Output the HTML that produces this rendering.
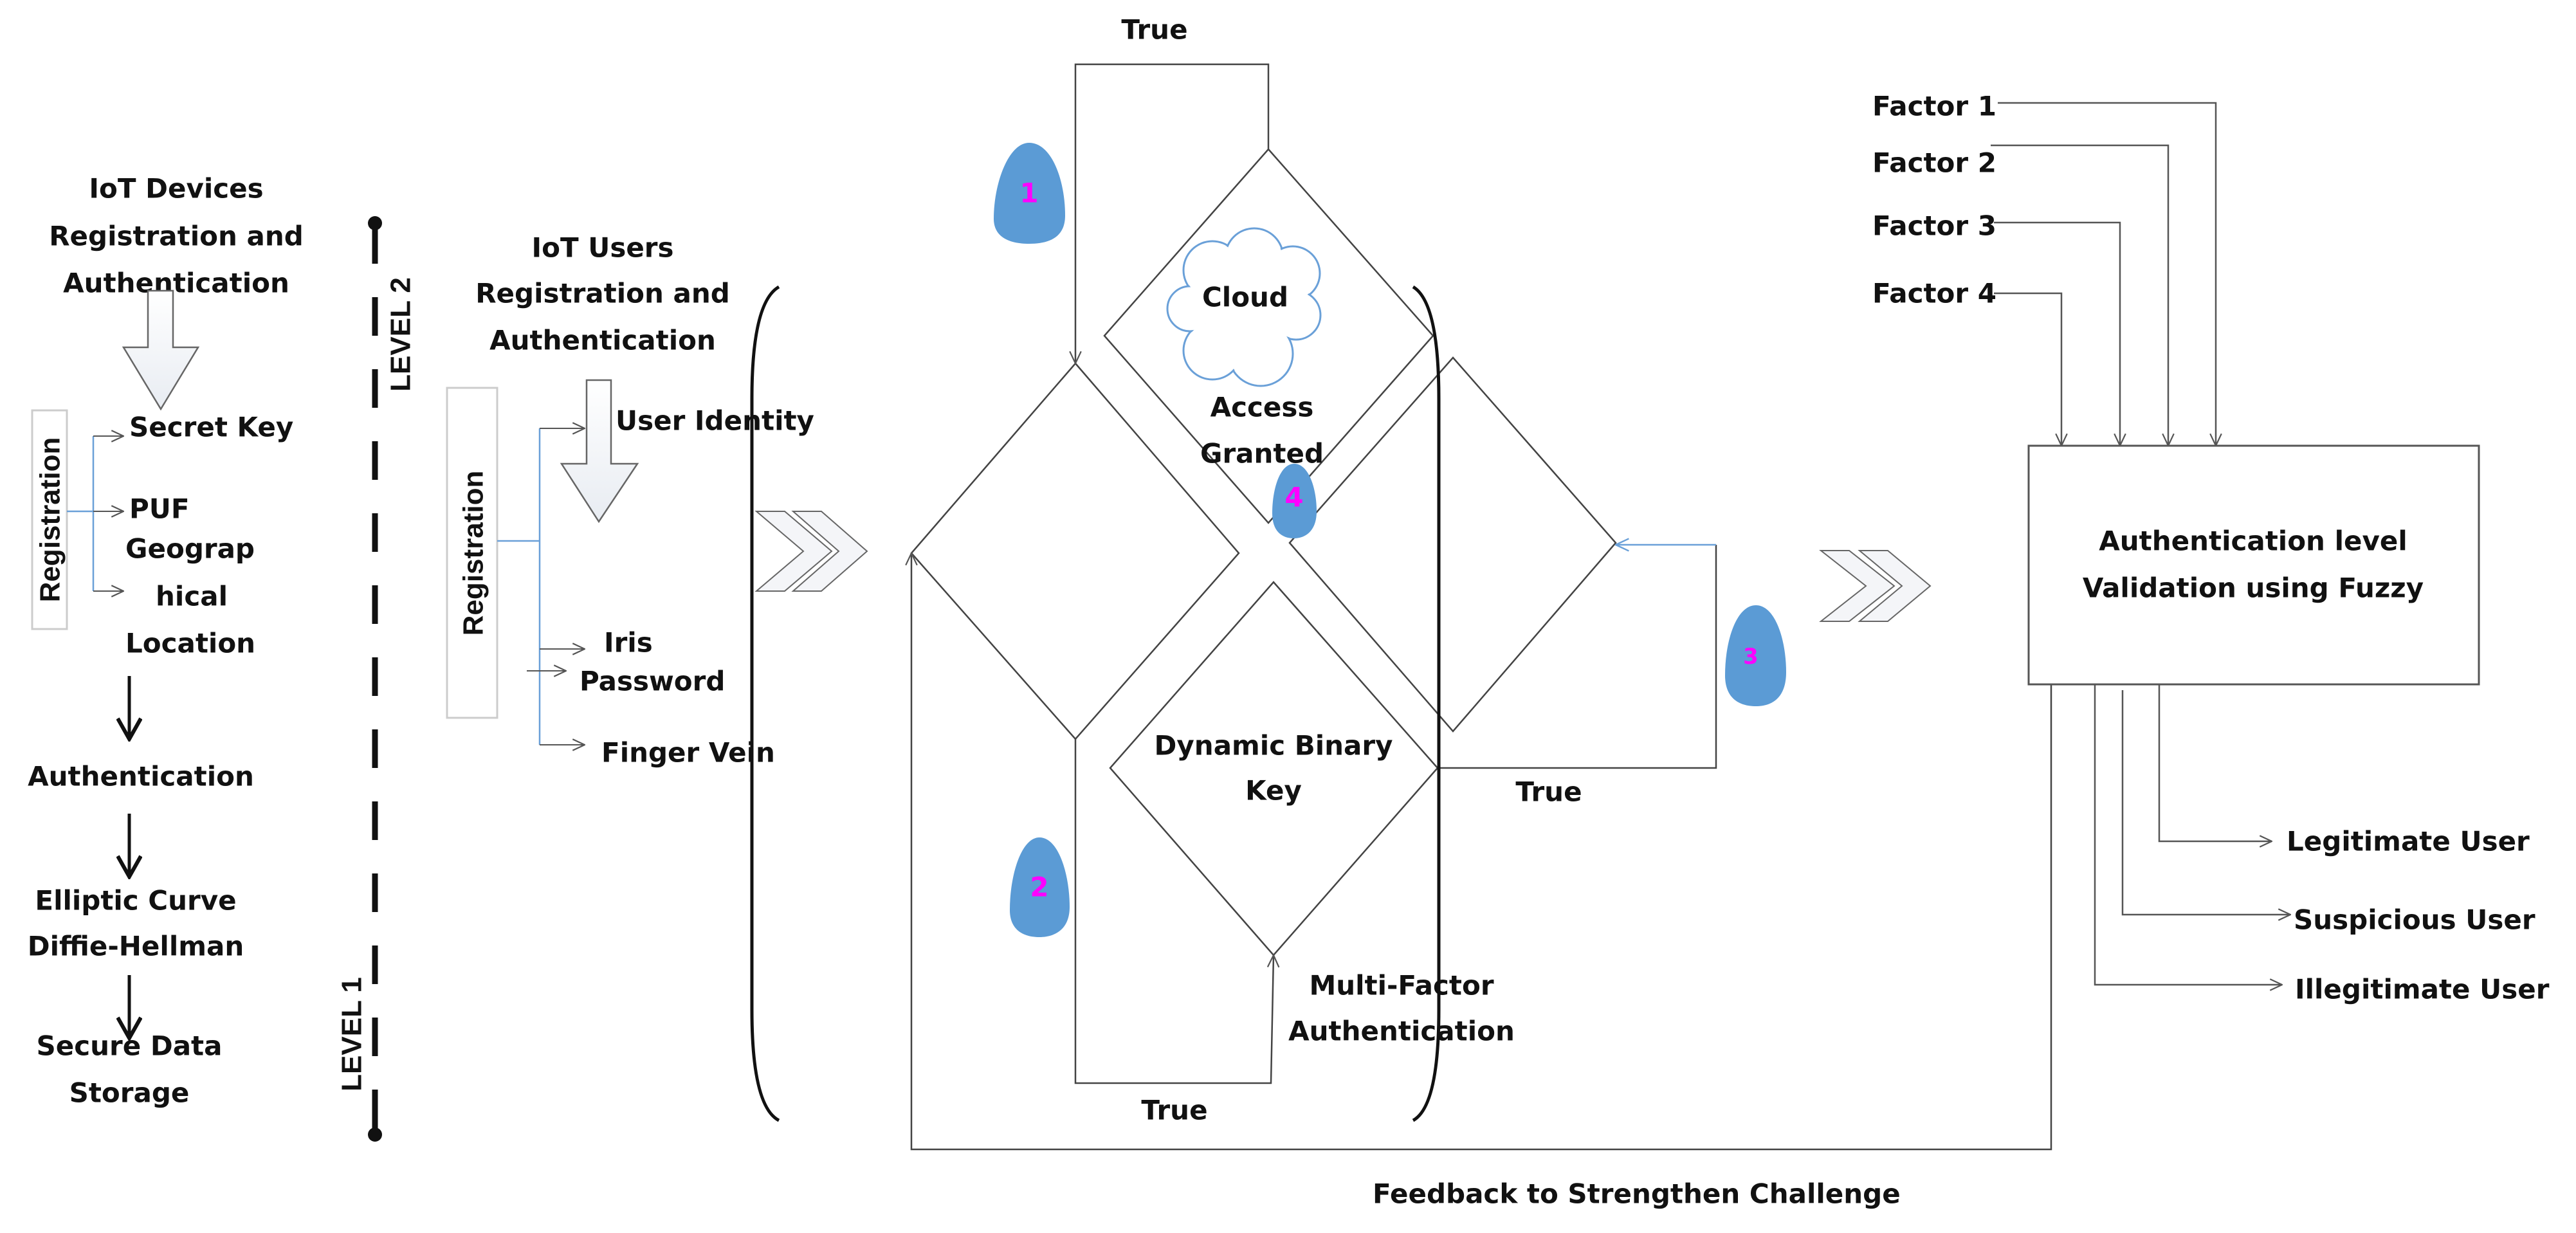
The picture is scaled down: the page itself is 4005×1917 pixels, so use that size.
<!DOCTYPE html>
<html><head><meta charset="utf-8"><style>
html,body{margin:0;padding:0;background:#fff}
svg{display:block}
text{font-family:"DejaVu Sans","Liberation Sans",sans-serif;font-weight:bold;font-size:42px;fill:#111;dominant-baseline:central}
.n{font-family:"Liberation Sans Narrow","Liberation Sans",sans-serif;font-size:44px}
</style></head><body>
<svg width="4005" height="1917" viewBox="0 0 4005 1917" xmlns="http://www.w3.org/2000/svg">
<defs>
<marker id="oa" viewBox="0 0 20 20" refX="19" refY="10" markerWidth="22" markerHeight="22" markerUnits="userSpaceOnUse" orient="auto"><path d="M2,2 L19,10 L2,18" fill="none" stroke="#555" stroke-width="2"/></marker>
<marker id="ob" viewBox="0 0 20 20" refX="19" refY="10" markerWidth="24" markerHeight="24" markerUnits="userSpaceOnUse" orient="auto"><path d="M2,2 L19,10 L2,18" fill="none" stroke="#6aa0d8" stroke-width="2"/></marker>
<marker id="ka" viewBox="0 0 20 20" refX="18" refY="10" markerWidth="40" markerHeight="40" markerUnits="userSpaceOnUse" orient="auto"><path d="M2,1 L18,10 L2,19" fill="none" stroke="#111" stroke-width="3"/></marker>
<linearGradient id="gr" x1="0" y1="0" x2="0" y2="1"><stop offset="0" stop-color="#fff"/><stop offset="1" stop-color="#e8ecf2"/></linearGradient>
</defs>

<!-- LEFT COLUMN -->
<text x="274" y="293" text-anchor="middle">IoT Devices</text>
<text x="274" y="367" text-anchor="middle">Registration and</text>
<text x="274" y="440" text-anchor="middle">Authentication</text>
<polygon points="230,452 269,452 269,540 308,540 250,636 192,540 230,540" fill="url(#gr)" stroke="#666" stroke-width="2.5"/>
<rect x="50" y="638" width="54" height="340" fill="#fff" stroke="#ccc" stroke-width="3"/>
<text class="n" transform="translate(78,808) rotate(-90)" text-anchor="middle">Registration</text>
<g stroke="#6aa0d8" stroke-width="2.5" fill="none">
<line x1="104" y1="795" x2="145" y2="795"/><line x1="145" y1="678" x2="145" y2="919"/>
</g>
<g stroke="#555" stroke-width="2" fill="none" marker-end="url(#oa)">
<line x1="145" y1="678" x2="192" y2="678"/><line x1="145" y1="795" x2="192" y2="795"/><line x1="145" y1="919" x2="192" y2="919"/>
</g>
<text x="201" y="664">Secret Key</text>
<text x="201" y="791">PUF</text>
<text x="195" y="853">Geograp</text>
<text x="298" y="927" text-anchor="middle">hical</text>
<text x="195" y="1000">Location</text>
<g stroke="#111" stroke-width="5" fill="none" marker-end="url(#ka)">
<line x1="201" y1="1051" x2="201" y2="1149"/><line x1="201" y1="1265" x2="201" y2="1363"/><line x1="201" y1="1516" x2="201" y2="1614"/>
</g>
<text x="219" y="1207" text-anchor="middle">Authentication</text>
<text x="211" y="1400" text-anchor="middle">Elliptic Curve</text>
<text x="211" y="1471" text-anchor="middle">Diffie-Hellman</text>
<text x="201" y="1626" text-anchor="middle">Secure Data</text>
<text x="201" y="1699" text-anchor="middle">Storage</text>

<!-- level divider -->
<line x1="583" y1="350" x2="583" y2="1760" stroke="#111" stroke-width="9" stroke-dasharray="60,52"/>
<circle cx="583" cy="347" r="11" fill="#111"/><circle cx="583" cy="1764" r="11" fill="#111"/>
<text class="n" transform="translate(623,520) rotate(-90)" text-anchor="middle">LEVEL 2</text>
<text class="n" transform="translate(547,1608) rotate(-90)" text-anchor="middle">LEVEL 1</text>

<!-- USERS -->
<text x="937" y="385" text-anchor="middle">IoT Users</text>
<text x="937" y="456" text-anchor="middle">Registration and</text>
<text x="937" y="529" text-anchor="middle">Authentication</text>
<rect x="695" y="603" width="78" height="513" fill="#fff" stroke="#ccc" stroke-width="3"/>
<text class="n" transform="translate(736,860) rotate(-90)" text-anchor="middle">Registration</text>
<g stroke="#6aa0d8" stroke-width="2.5" fill="none">
<line x1="773" y1="841" x2="839" y2="841"/><line x1="839" y1="666" x2="839" y2="1158"/>
</g>
<g stroke="#555" stroke-width="2" fill="none" marker-end="url(#oa)">
<line x1="839" y1="666" x2="909" y2="666"/><line x1="839" y1="1009" x2="909" y2="1009"/><line x1="819" y1="1043" x2="880" y2="1043"/><line x1="839" y1="1158" x2="909" y2="1158"/>
</g>
<polygon points="912,591 950,591 950,721 991,721 931,811 873,721 912,721" fill="url(#gr)" stroke="#666" stroke-width="2.5"/>
<text x="957" y="654">User Identity</text>
<text x="939" y="999">Iris</text>
<text x="901" y="1059">Password</text>
<text x="935" y="1170">Finger Vein</text>
<path d="M1211,446 Q1169,470 1169,620 L1169,1570 Q1169,1720 1211,1742" fill="none" stroke="#111" stroke-width="5"/>

<!-- chevrons 1 -->
<g fill="#f4f5f8" stroke="#666" stroke-width="2">
<polygon points="1176,795 1220,795 1293,857 1220,919 1176,919 1249,857"/>
<polygon points="1233,795 1277,795 1348,857 1277,919 1233,919 1304,857"/>
</g>

<!-- MIDDLE -->
<g stroke="#444" stroke-width="2.5" fill="none">
<polygon points="1972,232 2228,522 1972,813 1717,522"/>
<polygon points="1672,565 1926,860 1672,1149 1417,860"/>
<polygon points="2259,556 2512,844 2259,1137 2005,844"/>
<polygon points="1980,905 2235,1194 1980,1485 1726,1194"/>
<polyline points="1972,232 1972,100 1672,100 1672,565" marker-end="url(#oa)"/>
<polyline points="1672,1149 1672,1684 1976,1684 1980,1485" marker-end="url(#oa)"/>
<polyline points="3189,1064 3189,1787 1417,1787 1417,860" marker-end="url(#oa)"/>
<polyline points="2235,1194 2668,1194 2668,847"/>
</g>
<line x1="2668" y1="847" x2="2512" y2="847" stroke="#6aa0d8" stroke-width="2.5" marker-end="url(#ob)"/>
<text x="1795" y="46" text-anchor="middle">True</text>
<text x="1826" y="1726" text-anchor="middle">True</text>
<text x="2408" y="1231" text-anchor="middle">True</text>
<path d="M2197,446 Q2237,470 2237,620 L2237,1570 Q2237,1720 2197,1742" fill="none" stroke="#111" stroke-width="5"/>

<!-- cloud -->
<g stroke="#6aa0d8" stroke-width="3" fill="#fff">
<circle cx="1885" cy="420" r="45"/><circle cx="1950" cy="400" r="45"/><circle cx="2010" cy="425" r="42"/><circle cx="2015" cy="490" r="38"/><circle cx="1960" cy="550" r="50"/><circle cx="1885" cy="545" r="45"/><circle cx="1850" cy="480" r="35"/>
</g>
<g fill="#fff">
<circle cx="1885" cy="420" r="43"/><circle cx="1950" cy="400" r="43"/><circle cx="2010" cy="425" r="40"/><circle cx="2015" cy="490" r="36"/><circle cx="1960" cy="550" r="48"/><circle cx="1885" cy="545" r="43"/><circle cx="1850" cy="480" r="33"/><circle cx="1940" cy="480" r="70"/>
</g>
<text x="1936" y="462" text-anchor="middle">Cloud</text>
<text x="1962" y="633" text-anchor="middle">Access</text>
<text x="1962" y="705" text-anchor="middle">Granted</text>
<text x="1980" y="1159" text-anchor="middle">Dynamic Binary</text>
<text x="1980" y="1229" text-anchor="middle">Key</text>
<text x="2179" y="1532" text-anchor="middle">Multi-Factor</text>
<text x="2179" y="1603" text-anchor="middle">Authentication</text>
<text x="2134" y="1856">Feedback to Strengthen Challenge</text>

<!-- drops -->
<g fill="#5b9bd5">
<path d="M1600,222 C1635,222 1656,280 1656,335 C1656,370 1630,379 1600,379 C1568,379 1545,368 1545,340 C1545,285 1568,222 1600,222Z"/>
<path d="M1616,1302 C1646,1302 1663,1360 1663,1410 C1663,1445 1640,1457 1616,1457 C1590,1457 1570,1445 1570,1415 C1570,1360 1588,1302 1616,1302Z"/>
<path d="M2012,721 C2035,721 2047,760 2047,795 C2047,825 2030,837 2012,837 C1992,837 1978,825 1978,798 C1978,760 1990,721 2012,721Z"/>
<path d="M2730,941 C2760,941 2777,995 2777,1045 C2777,1085 2755,1098 2730,1098 C2703,1098 2682,1085 2682,1050 C2682,995 2700,941 2730,941Z"/>
</g>
<g style="font-size:40px">
<text x="1600" y="300" text-anchor="middle" style="fill:#ff00ff">1</text>
<text x="1616" y="1379" text-anchor="middle" style="fill:#ff00ff">2</text>
<text x="2012" y="773" text-anchor="middle" style="fill:#ff00ff">4</text>
<text x="2722" y="1021" text-anchor="middle" style="fill:#ff00ff;font-size:34px">3</text>
</g>

<!-- chevrons 2 -->
<g fill="#f4f5f8" stroke="#666" stroke-width="2">
<polygon points="2831,856 2875,856 2945,911 2875,966 2831,966 2901,911"/>
<polygon points="2891,856 2935,856 3001,911 2935,966 2891,966 2957,911"/>
</g>

<!-- RIGHT -->
<text x="2911" y="165">Factor 1</text>
<text x="2911" y="253">Factor 2</text>
<text x="2911" y="351">Factor 3</text>
<text x="2911" y="456">Factor 4</text>
<g stroke="#555" stroke-width="2.5" fill="none" marker-end="url(#oa)">
<polyline points="3106,160 3445,160 3445,693"/>
<polyline points="3095,226 3371,226 3371,693"/>
<polyline points="3100,346 3296,346 3296,693"/>
<polyline points="3100,456 3205,456 3205,693"/>
</g>
<rect x="3154" y="693" width="700" height="371" fill="#fff" stroke="#555" stroke-width="3"/>
<text x="3503" y="841" text-anchor="middle">Authentication level</text>
<text x="3503" y="914" text-anchor="middle">Validation using Fuzzy</text>
<g stroke="#555" stroke-width="2.5" fill="none" marker-end="url(#oa)">
<polyline points="3357,1064 3357,1308 3532,1308"/>
<polyline points="3300,1073 3300,1422 3561,1422"/>
<polyline points="3257,1064 3257,1531 3548,1531"/>
</g>
<text x="3555" y="1308">Legitimate User</text>
<text x="3566" y="1430">Suspicious User</text>
<text x="3568" y="1538">Illegitimate User</text>
</svg>
</body></html>
